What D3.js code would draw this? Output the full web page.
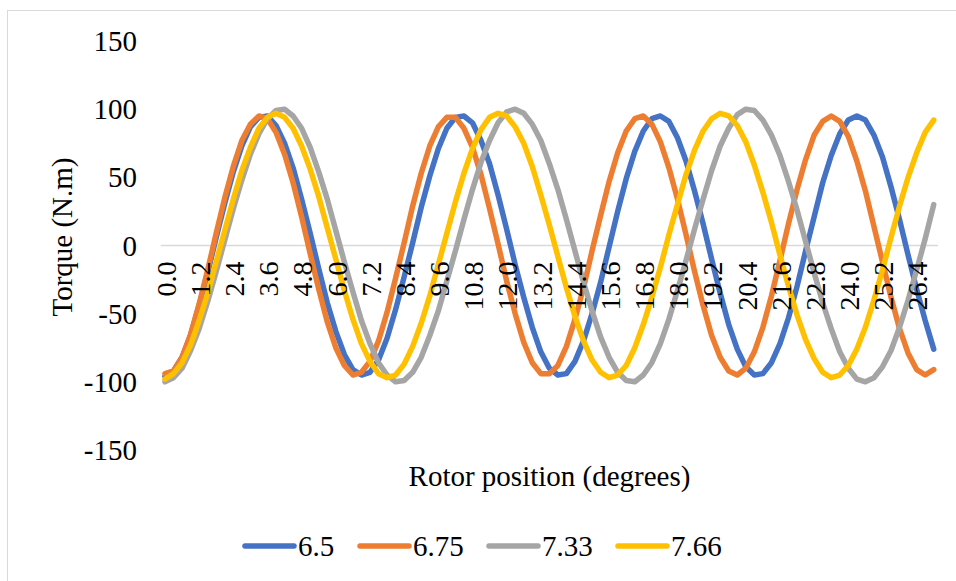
<!DOCTYPE html>
<html><head><meta charset="utf-8">
<script src="https://cdn.jsdelivr.net/npm/d3@7"></script>
<style>html,body{margin:0;padding:0;background:#fff;}svg{display:block;}</style>
</head><body>
<svg id="chart" width="956" height="581"></svg>
<script>
const categories = ["0.0","0.3","0.6","0.9","1.2","1.5","1.8","2.1","2.4","2.7","3.0","3.3","3.6","3.9","4.2","4.5","4.8","5.1","5.4","5.7","6.0","6.3","6.6","6.9","7.2","7.5","7.8","8.1","8.4","8.7","9.0","9.3","9.6","9.9","10.2","10.5","10.8","11.1","11.4","11.7","12.0","12.3","12.6","12.9","13.2","13.5","13.8","14.1","14.4","14.7","15.0","15.3","15.6","15.9","16.2","16.5","16.8","17.1","17.4","17.7","18.0","18.3","18.6","18.9","19.2","19.5","19.8","20.1","20.4","20.7","21.0","21.3","21.6","21.9","22.2","22.5","22.8","23.1","23.4","23.7","24.0","24.3","24.6","24.9","25.2","25.5","25.8","26.1","26.4","26.7","27.0"];
const xTickLabels = ["0.0","1.2","2.4","3.6","4.8","6.0","7.2","8.4","9.6","10.8","12.0","13.2","14.4","15.6","16.8","18.0","19.2","20.4","21.6","22.8","24.0","25.2","26.4"];
const yTickValues = [150,100,50,0,-50,-100,-150];
const seriesNames = ["6.5","6.75","7.33","7.66"];
const seriesColors = ["#4472C4","#ED7D31","#A5A5A5","#FFC000"];
const s650 = [-96,-92,-82,-66,-44,-20,6,31,54,73, 87,94,95,88,75,57,34,9,-17,-42, -63,-80,-91,-95,-93,-84,-68,-47,-23,2, 28,51,71,86,94,95,90,77,60,37, 12,-14,-38,-60,-78,-90,-95,-94,-85,-70, -50,-27,-1,25,49,69,84,93,95,91, 79,62,40,16,-10,-35,-58,-76,-89,-95, -94,-86,-72,-53,-30,-4,21,46,66,82, 92,95,92,81,65,43,19,-7,-32,-55, -76];
const s675 = [-94,-92,-82,-65,-43,-18,9,35,58,77, 89,95,93,83,67,46,21,-6,-32,-56, -75,-88,-95,-93,-85,-70,-49,-24,2,29, 53,73,87,94,94,86,72,52,27,1, -26,-50,-71,-86,-94,-94,-88,-74,-54,-31, -4,22,47,68,84,93,95,89,76,57, 34,8,-19,-44,-66,-82,-92,-95,-90,-78, -60,-37,-11,16,41,63,81,91,95,91, 80,62,40,14,-12,-38,-61,-79,-91,-95, -91];
const s733 = [-100,-97,-90,-77,-61,-41,-19,4,27,48, 67,82,93,99,100,95,86,72,54,34, 11,-12,-34,-55,-72,-86,-95,-100,-99,-93, -82,-66,-48,-26,-4,19,41,61,77,90, 98,100,97,89,77,60,41,19,-4,-27, -48,-67,-82,-93,-99,-100,-95,-86,-72,-54, -33,-11,12,34,55,73,86,96,100,99, 92,81,66,47,26,3,-20,-42,-61,-78, -90,-98,-100,-97,-89,-77,-60,-40,-18,5, 30];
const s766 = [-98,-94,-86,-73,-55,-35,-12,11,34,55, 72,86,94,97,94,86,73,56,36,13, -10,-33,-54,-72,-85,-94,-97,-95,-87,-74, -57,-37,-14,9,32,53,71,85,94,97, 95,87,75,58,37,15,-8,-31,-52,-70, -84,-93,-97,-95,-88,-75,-58,-38,-16,8, 30,52,70,84,93,97,95,88,76,59, 39,17,-7,-30,-51,-69,-83,-93,-97,-95, -88,-76,-60,-40,-18,6,29,50,68,83, 92];
const seriesValues = [s650, s675, s733, s766];

const FONT = "'Liberation Serif','Times New Roman',serif";
const FS = 29;
const svg = d3.select("#chart");

// chart border
svg.append("rect").attr("x",7.5).attr("y",10.5).attr("width",1000).attr("height",1000)
  .attr("fill","none").attr("stroke","#d9d9d9").attr("stroke-width",1);

const x = d3.scaleBand().domain(categories).range([160.7, 938]).padding(0);
const xc = c => x(c) + x.bandwidth()/2;
const y = d3.scaleLinear().domain([-150,150]).range([450, 41]);

// zero line
svg.append("line").attr("x1",160.7).attr("x2",938).attr("y1",y(0)).attr("y2",y(0))
  .attr("stroke","#d9d9d9").attr("stroke-width",1.5);

// lines
const line = d3.line().x((d,i)=>xc(categories[i])).y(d=>y(d));
seriesValues.forEach((vals,k)=>{
  svg.append("path").datum(vals).attr("d",line).attr("fill","none")
    .attr("stroke",seriesColors[k]).attr("stroke-width",5.5)
    .attr("stroke-linejoin","round").attr("stroke-linecap","round");
});

// y labels
svg.append("g").selectAll("text").data(yTickValues).join("text")
  .attr("x",137).attr("y",d=>y(d)).attr("dy","0.35em").attr("text-anchor","end")
  .attr("font-family",FONT).attr("font-size",FS).attr("fill","#000").text(d=>d);

// x labels (drawn over the lines)
svg.append("g").selectAll("text").data(xTickLabels).join("text")
  .attr("transform",d=>`translate(${xc(d)+1},${y(0)+16}) rotate(-90)`)
  .attr("dy","0.35em").attr("text-anchor","end")
  .attr("font-family",FONT).attr("font-size",FS-1).attr("fill","#000").text(d=>d);

// axis titles
svg.append("text").attr("transform","translate(62,237) rotate(-90)").attr("text-anchor","middle")
  .attr("dy","0.35em").attr("font-family",FONT).attr("font-size",FS).text("Torque (N.m)");
svg.append("text").attr("x",549.5).attr("y",476).attr("text-anchor","middle")
  .attr("dy","0.35em").attr("font-family",FONT).attr("font-size",FS).text("Rotor position (degrees)");

// legend
const legX = [243, 358, 487, 616];
seriesNames.forEach((n,k)=>{
  svg.append("line").attr("x1",legX[k]+2).attr("x2",legX[k]+51).attr("y1",546).attr("y2",546)
    .attr("stroke",seriesColors[k]).attr("stroke-width",5.5).attr("stroke-linecap","round");
  svg.append("text").attr("x",legX[k]+55).attr("y",546).attr("dy","0.35em")
    .attr("font-family",FONT).attr("font-size",FS).text(n);
});
</script>
</body></html>
